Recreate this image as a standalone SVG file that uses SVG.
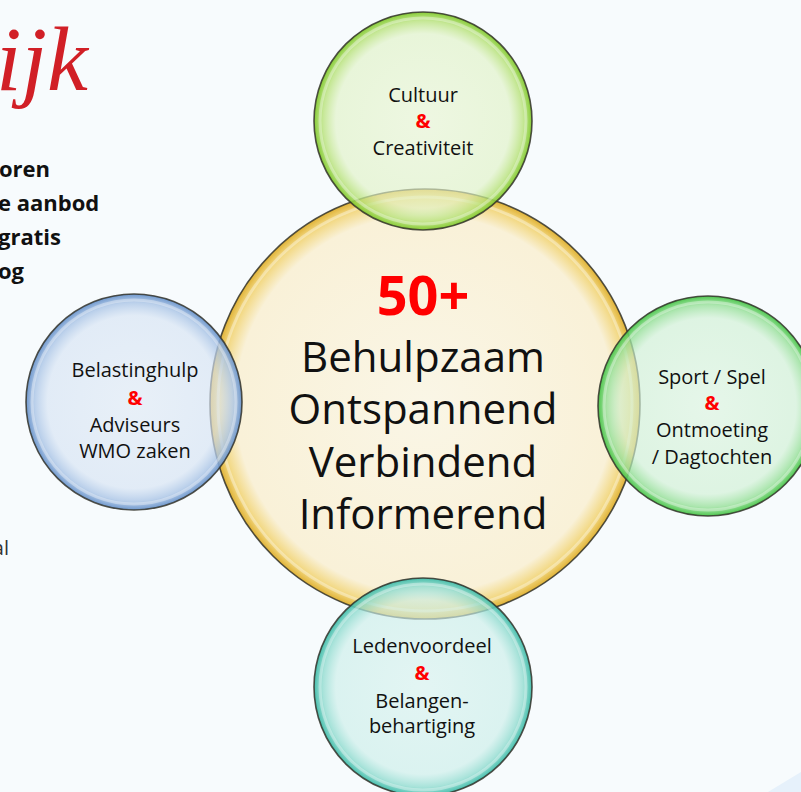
<svg xmlns="http://www.w3.org/2000/svg" width="801" height="792" viewBox="0 0 801 792">
  <style>
    .side { font-family: "Open Sans", "Liberation Sans", sans-serif; font-weight: 700; font-size: 22px; fill: #111; }
    .lbl { font-family: "Open Sans", "Liberation Sans", sans-serif; font-size: 20px; fill: #111; text-anchor: middle; }
    .amp { font-family: "Open Sans", "Liberation Sans", sans-serif; font-size: 20px; font-weight: 700; fill: #ff0000; text-anchor: middle; }
    .big { font-family: "Open Sans", "Liberation Sans", sans-serif; font-size: 42px; fill: #111; text-anchor: middle; }
    .num { font-family: "Open Sans", "Liberation Sans", sans-serif; font-size: 54px; font-weight: 700; fill: #ff0000; text-anchor: middle; }
    .edge { fill: none; stroke: #33332a; stroke-width: 1.6; stroke-opacity: 0.85; }
    .shine { fill: none; stroke: #ffffff; stroke-width: 3; stroke-opacity: 0.35; }
  </style>
  <defs>
    <radialGradient id="gYellow" cx="50%" cy="50%" r="50%">
      <stop offset="0" stop-color="#faf6e6"/>
      <stop offset="0.88" stop-color="#f9f1d8"/>
      <stop offset="0.96" stop-color="#f2d77f"/>
      <stop offset="1" stop-color="#e0b236"/>
    </radialGradient>
    <radialGradient id="gGreen" cx="50%" cy="50%" r="50%">
      <stop offset="0" stop-color="#e9f5d3" stop-opacity="0.65"/>
      <stop offset="0.8" stop-color="#e0f2c6" stop-opacity="0.65"/>
      <stop offset="0.92" stop-color="#b8e27a" stop-opacity="0.8"/>
      <stop offset="1" stop-color="#80c92b" stop-opacity="0.95"/>
    </radialGradient>
    <radialGradient id="gBlue" cx="50%" cy="50%" r="50%">
      <stop offset="0" stop-color="#e0eaf5" stop-opacity="0.65"/>
      <stop offset="0.8" stop-color="#d6e3f3" stop-opacity="0.65"/>
      <stop offset="0.92" stop-color="#abc5e6" stop-opacity="0.8"/>
      <stop offset="1" stop-color="#6792ca" stop-opacity="0.95"/>
    </radialGradient>
    <radialGradient id="gLime" cx="50%" cy="50%" r="50%">
      <stop offset="0" stop-color="#dcf4df" stop-opacity="0.65"/>
      <stop offset="0.8" stop-color="#d0f0d4" stop-opacity="0.65"/>
      <stop offset="0.92" stop-color="#98e09a" stop-opacity="0.8"/>
      <stop offset="1" stop-color="#45c445" stop-opacity="0.95"/>
    </radialGradient>
    <radialGradient id="gTeal" cx="50%" cy="50%" r="50%">
      <stop offset="0" stop-color="#d8f2ee" stop-opacity="0.65"/>
      <stop offset="0.8" stop-color="#cbeee9" stop-opacity="0.65"/>
      <stop offset="0.92" stop-color="#92dcd0" stop-opacity="0.8"/>
      <stop offset="1" stop-color="#3cbba8" stop-opacity="0.95"/>
    </radialGradient>
  </defs>

  <rect x="0" y="0" width="801" height="792" fill="#f7fbfd"/>
  <polygon points="768,792 801,772 801,792" fill="#e6f1fb"/>

  <g id="side-text">
    <text x="-4" y="90" font-family="Liberation Serif, serif" font-style="italic" font-size="92" fill="#d11f26">ijk</text>
    <text class="side" x="-1" y="177">oren</text>
    <text class="side" x="-2" y="211">e aanbod</text>
    <text class="side" x="-2" y="245">gratis</text>
    <text class="side" x="-2" y="279">og</text>
    <text x="9" y="555" text-anchor="end" font-family="Open Sans, Liberation Sans, sans-serif" font-size="20" fill="#333">al</text>
  </g>

  <g id="connectors"></g>

  <g id="node-center">
    <circle cx="425" cy="404" r="215" fill="url(#gYellow)"/>
    <circle class="shine" cx="425" cy="404" r="207"/>
    <circle class="edge" cx="425" cy="404" r="215"/>
    <text class="num" x="423" y="315">50+</text>
    <text class="big" x="423" y="372">Behulpzaam</text>
    <text class="big" x="423" y="424">Ontspannend</text>
    <text class="big" x="423" y="477">Verbindend</text>
    <text class="big" x="423" y="529">Informerend</text>
  </g>

  <g id="node-top">
    <circle cx="423" cy="121" r="109" fill="url(#gGreen)"/>
    <circle class="shine" cx="423" cy="121" r="103"/>
    <circle class="edge" cx="423" cy="121" r="109"/>
    <text class="lbl" x="423" y="102">Cultuur</text>
    <text class="amp" x="423" y="128">&amp;</text>
    <text class="lbl" x="423" y="155">Creativiteit</text>
  </g>

  <g id="node-left">
    <circle cx="134" cy="402" r="108" fill="url(#gBlue)"/>
    <circle class="shine" cx="134" cy="402" r="102"/>
    <circle class="edge" cx="134" cy="402" r="108"/>
    <text class="lbl" x="135" y="377">Belastinghulp</text>
    <text class="amp" x="135" y="405">&amp;</text>
    <text class="lbl" x="135" y="432">Adviseurs</text>
    <text class="lbl" x="135" y="458">WMO zaken</text>
  </g>

  <g id="node-right">
    <circle cx="708" cy="406" r="110" fill="url(#gLime)"/>
    <circle class="shine" cx="708" cy="406" r="104"/>
    <circle class="edge" cx="708" cy="406" r="110"/>
    <text class="lbl" x="712" y="384">Sport / Spel</text>
    <text class="amp" x="712" y="410">&amp;</text>
    <text class="lbl" x="712" y="437">Ontmoeting</text>
    <text class="lbl" x="712" y="464">/ Dagtochten</text>
  </g>

  <g id="node-bottom">
    <circle cx="423" cy="687" r="109" fill="url(#gTeal)"/>
    <circle class="shine" cx="423" cy="687" r="103"/>
    <circle class="edge" cx="423" cy="687" r="109"/>
    <text class="lbl" x="422" y="653">Ledenvoordeel</text>
    <text class="amp" x="422" y="680">&amp;</text>
    <text class="lbl" x="422" y="708">Belangen-</text>
    <text class="lbl" x="422" y="733">behartiging</text>
  </g>
</svg>
